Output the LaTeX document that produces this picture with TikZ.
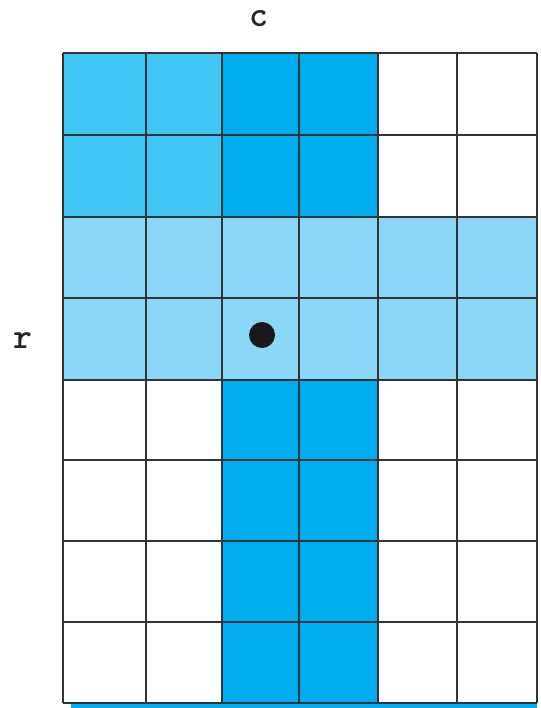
\documentclass[tikz,border=0pt]{standalone}
\usepackage{fontspec}
\definecolor{cyanA}{HTML}{40C6F4}
\definecolor{blueB}{HTML}{00ADEE}
\definecolor{paleC}{HTML}{8AD7F7}
\definecolor{gridline}{HTML}{333333}
\tikzset{
  cellA/.style={fill=cyanA},
  cellB/.style={fill=blueB},
  cellC/.style={fill=paleC},
  gridstroke/.style={draw=gridline, line width=1.6pt},
  lbl/.style={font=\ttfamily\bfseries\fontsize{36}{38}\selectfont, inner sep=0pt, text=black!85},
}
\begin{document}
\begin{tikzpicture}[x=1pt,y=-1pt]
\useasboundingbox (0,0) rectangle (540,708);
\def\xs{{63,146,222,299,378,457,537}}
\def\ys{{53,135,217,298,380,460,541,622,703}}
% bottom blue edge
\fill[blueB] (71,703) rectangle (537,707.5);
% fills
\foreach \r in {0,...,7}{
  \foreach \c in {0,...,5}{
    \pgfmathsetmacro{\xa}{\xs[\c]}
    \pgfmathsetmacro{\xb}{\xs[\c+1]}
    \pgfmathsetmacro{\ya}{\ys[\r]}
    \pgfmathsetmacro{\yb}{\ys[\r+1]}
    \pgfmathtruncatemacro{\kind}{(\r==2 || \r==3) ? 3 : ((\c==2 || \c==3) ? 2 : ((\r<2 && \c<2) ? 1 : 0))}
    \ifcase\kind
      \fill[white] (\xa,\ya) rectangle (\xb,\yb);
    \or
      \fill[cellA] (\xa,\ya) rectangle (\xb,\yb);
    \or
      \fill[cellB] (\xa,\ya) rectangle (\xb,\yb);
    \or
      \fill[cellC] (\xa,\ya) rectangle (\xb,\yb);
    \fi
  }
}
% grid lines
\foreach \c in {0,...,6}{
  \pgfmathsetmacro{\xa}{\xs[\c]}
  \draw[gridstroke] (\xa,53) -- (\xa,703);
}
\foreach \r in {0,...,8}{
  \pgfmathsetmacro{\ya}{\ys[\r]}
  \draw[gridstroke] (63,\ya) -- (537,\ya);
}
% dot
\fill[black!90] (262,335) circle (13);
\node[circle, inner sep=0pt, minimum size=0pt] (dot) at (262,335) {};
% labels
\node[lbl] (clabel) at (259,19) {c};
\node[lbl] (rlabel) at (23,341) {r};
\end{tikzpicture}
\end{document}
